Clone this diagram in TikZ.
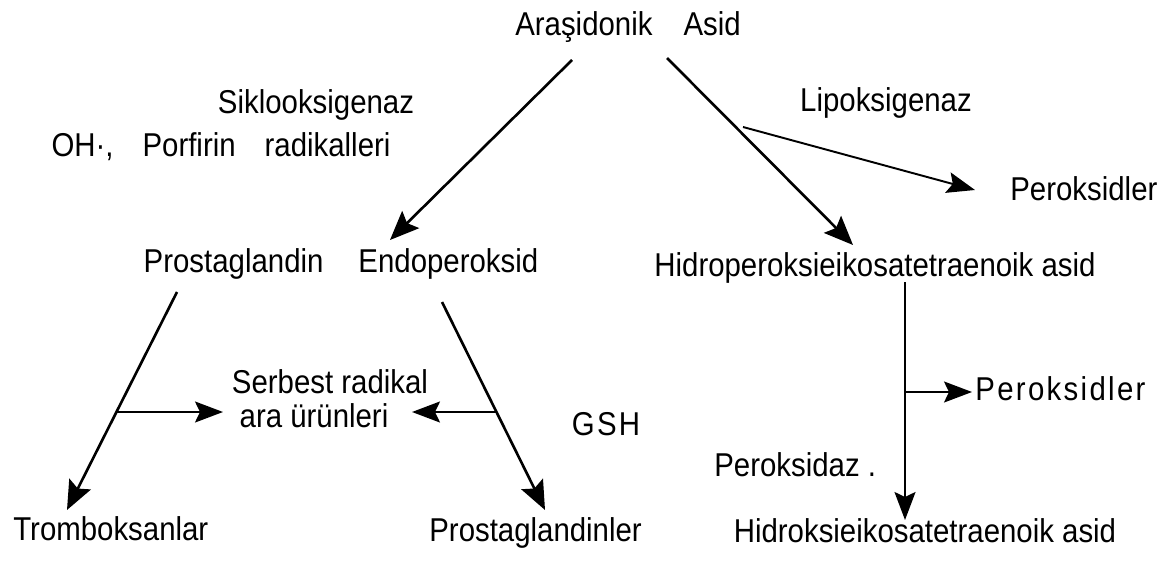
\documentclass[tikz,border=0pt]{standalone}
\usepackage{fontspec}
\setmainfont{Liberation Sans}[FakeStretch=0.89]
\newfontfamily\spacedfont{Liberation Sans}[FakeStretch=0.89,LetterSpace=7]
\usetikzlibrary{arrows.meta}
\begin{document}
\begin{tikzpicture}[x=0.02cm,y=-0.02cm,>={Stealth[length=0.56cm,width=0.42cm,inset=0.1cm]},font=\fontsize{18.8}{22}\selectfont,every node/.style={inner sep=0pt,anchor=base},main/.style={-{Stealth[length=0.58cm,width=0.48cm,inset=0.1cm]},line width=1.5pt},side/.style={->,line width=1.1pt}]
\useasboundingbox(0,0)rectangle(1172,564);
\node(aa) at (628,36){Araşidonik\hspace{0.62cm}Asid};
\node(sik) at (316,114){Siklooksigenaz};
\node(oh) at (221,157){OH·,\hspace{0.58cm}Porfirin\hspace{0.58cm}radikalleri};
\node(lip) at (886,112){Lipoksigenaz};
\node[anchor=base west](per1) at (1010,200){Peroksidler};
\node(pge) at (341,272){Prostaglandin\hspace{0.7cm}Endoperoksid};
\node(hpete) at (875,276){Hidroperoksieikosatetraenoik asid};
\node(serb) at (330,393){Serbest radikal};
\node(ara) at (314,427){ara ürünleri};
\node(gsh) at (606,435){\spacedfont GSH};
\node[anchor=base west](per2) at (975,400){\spacedfont Peroksidler};
\node[anchor=base west](pdaz) at (714,476){Peroksidaz .};
\node[anchor=base west](trom) at (13,540){Tromboksanlar};
\node[anchor=base west](pgs) at (429,541){Prostaglandinler};
\node(hete) at (925,542){Hidroksieikosatetraenoik asid};
\coordinate(a1s) at (572,60);\coordinate(a1e) at (390,240);
\coordinate(a2s) at (667,58);\coordinate(a2e) at (853,245);
\coordinate(l1s) at (743,127);\coordinate(l1e) at (975,190);
\coordinate(b1s) at (177,292);\coordinate(b1e) at (67,510);
\coordinate(b2s) at (442,302);\coordinate(b2e) at (545,510);
\coordinate(h1s) at (116,412);\coordinate(h1e) at (223,412);
\coordinate(h2s) at (497,412);\coordinate(h2e) at (412,412);
\coordinate(vs) at (905,282);\coordinate(ve) at (905,520);
\coordinate(h3s) at (905,392);\coordinate(h3e) at (972,392);
\draw[main](a1s)--(a1e);\draw[main](a2s)--(a2e);\draw[side](l1s)--(l1e);
\draw[main](b1s)--(b1e);\draw[main](b2s)--(b2e);
\draw[side](h1s)--(h1e);\draw[side](h2s)--(h2e);
\draw[side](vs)--(ve);\draw[side](h3s)--(h3e);
\end{tikzpicture}
\end{document}
